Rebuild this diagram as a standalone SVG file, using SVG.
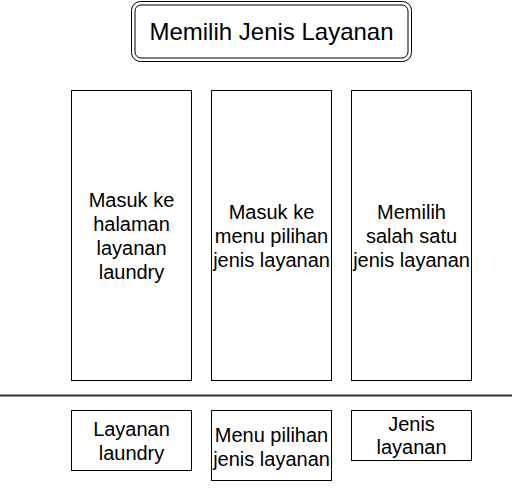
<svg xmlns="http://www.w3.org/2000/svg" width="512" height="491" viewBox="0 0 512 491">
<style>
.box{fill:#ffffff;stroke:#000000;stroke-width:1}
.t{font-family:"Liberation Sans",Arial,Helvetica,sans-serif;font-size:20px;fill:#000000;text-anchor:middle}
.title{font-size:24px}
</style>
<rect width="512" height="491" fill="#ffffff"/>
<g id="title">
<rect class="box" x="131.5" y="1.5" width="280" height="60" rx="9" ry="9"/>
<rect class="box" x="135" y="5" width="273" height="53" rx="6" ry="6"/>
<text class="t title" x="271.5" y="40">Memilih Jenis Layanan</text>
</g>
<g id="step1">
<rect class="box" x="71.5" y="90.5" width="120" height="290"/>
<text class="t" x="131.5" y="207.2">Masuk ke</text>
<text class="t" x="131.5" y="231.2">halaman</text>
<text class="t" x="131.5" y="255.2">layanan</text>
<text class="t" x="131.5" y="279.2">laundry</text>
</g>
<g id="step2">
<rect class="box" x="211.5" y="90.5" width="120" height="290"/>
<text class="t" x="271.5" y="218.5">Masuk ke</text>
<text class="t" x="271.5" y="242.5">menu pilihan</text>
<text class="t" x="271.5" y="266.5">jenis layanan</text>
</g>
<g id="step3">
<rect class="box" x="351.5" y="90.5" width="120" height="290"/>
<text class="t" x="411.5" y="218.5">Memilih</text>
<text class="t" x="411.5" y="242.5">salah satu</text>
<text class="t" x="411.5" y="266.5">jenis layanan</text>
</g>
<g id="connectors">
<line x1="0" y1="395.5" x2="512" y2="395.5" stroke="#333333" stroke-width="2"/>
</g>
<g id="out1">
<rect class="box" x="71.5" y="410.5" width="120" height="60"/>
<text class="t" x="131.5" y="436">Layanan</text>
<text class="t" x="131.5" y="460">laundry</text>
</g>
<g id="out2">
<rect class="box" x="211.5" y="410.5" width="120" height="70"/>
<text class="t" x="271.5" y="441.5">Menu pilihan</text>
<text class="t" x="271.5" y="465.5">jenis layanan</text>
</g>
<g id="out3">
<rect class="box" x="351.5" y="410.5" width="120" height="50"/>
<text class="t" x="411.5" y="430.7">Jenis</text>
<text class="t" x="411.5" y="454">layanan</text>
</g>
</svg>
